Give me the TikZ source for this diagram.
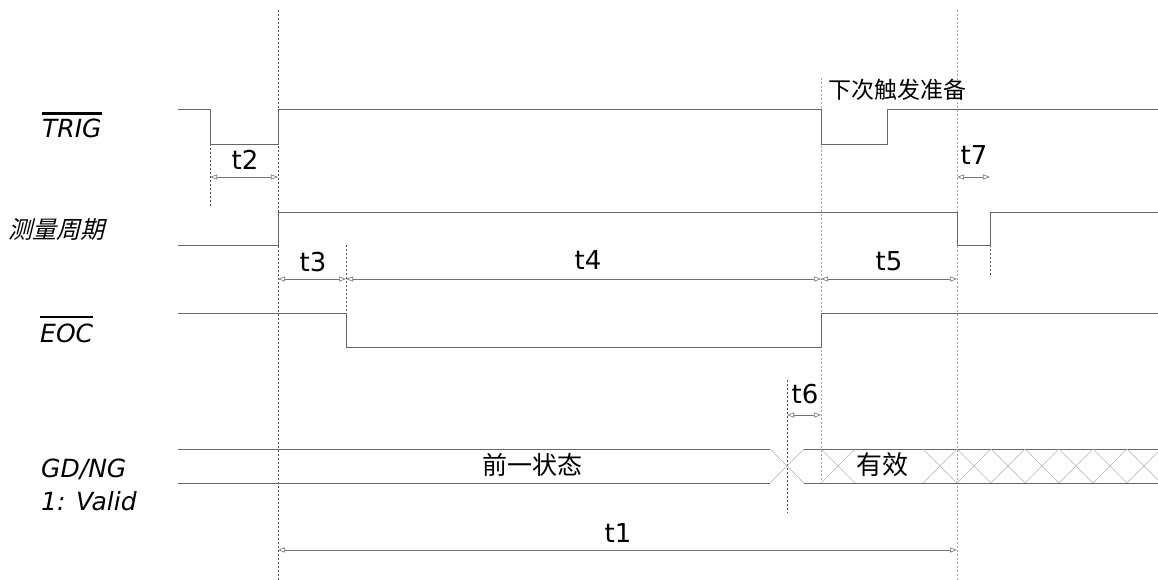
\documentclass[tikz,border=0pt]{standalone}
\usepackage{fontspec}
\setmainfont{DejaVu Sans}
\newfontfamily\cjk{Noto Sans CJK SC}
\newfontfamily\cjkslant[FakeSlant=0.25]{Noto Sans CJK SC}
\usetikzlibrary{arrows.meta}
\begin{document}
\begin{tikzpicture}[x=1pt,y=-1pt,
  sig/.style={draw=black!60, line width=0.9pt},
  guide/.style={draw=black!70, line width=0.6pt, dash pattern=on 2pt off 2pt},
  lguide/.style={draw=black!35, line width=0.7pt, dash pattern=on 2pt off 2pt},
  dim/.style={draw=black!55, line width=0.6pt,
    {Triangle[open,length=7pt,width=5pt]}-{Triangle[open,length=7pt,width=5pt]}},
  tlab/.style={font=\fontsize{26}{28}\selectfont, inner sep=0pt, anchor=base},
  slab/.style={font=\fontsize{25}{27}\selectfont\itshape, inner sep=0pt, anchor=base west},
  cjklab/.style={inner sep=0pt, anchor=center},
  hatch/.style={draw=black!30, line width=0.6pt},
  bar/.style={line width=2.6pt, draw=black}]
\useasboundingbox (0,0) rectangle (1158,580);

% ---- signal names ----
\node[slab] (trig) at (42,138) {TRIG};
\draw[bar] (trig.west |- 0,113.5) -- (trig.east |- 0,113.5);
\node[cjklab, font=\fontsize{24}{26}\cjkslant] (meas) at (57,230) {测量周期};
\node[slab] (eoc) at (40,342) {EOC};
\draw[bar] (eoc.west |- 0,317) -- (eoc.east |- 0,317);
\node[slab] (gdng) at (41,477) {GD/NG};
\node[slab] (valid) at (41,510) {1: Valid};

% ---- guide lines ----
\draw[guide] (278,10) -- (278,580);
\draw[lguide] (957,10) -- (957,580);
\draw[lguide] (821,78) -- (821,482);
\draw[guide] (210,144) -- (210,208);
\draw[guide] (346,245) -- (346,347);
\draw[guide] (990,245) -- (990,277);
\draw[guide] (787,380) -- (787,513);

% ---- waveforms ----
\draw[sig] (178,109) -- (210,109) -- (210,144) -- (278,144) -- (278,109)
  -- (821,109) -- (821,144) -- (887,144) -- (887,109) -- (1158,109);
\draw[sig] (178,245) -- (278,245) -- (278,212) -- (957,212) -- (957,245)
  -- (990,245) -- (990,212) -- (1158,212);
\draw[sig] (178,313) -- (346,313) -- (346,347) -- (821,347) -- (821,313) -- (1158,313);

% bus GD/NG
\draw[sig] (178,449) -- (770,449);
\draw[sig] (178,483) -- (770,483);
\draw[hatch] (770,449) -- (804,483);
\draw[hatch] (770,483) -- (804,449);
\draw[sig] (804,449) -- (1158,449);
\draw[sig] (804,483) -- (1158,483);
\begin{scope}
  \clip (0,0) rectangle (1158,580);
  \foreach \a in {821,923,957,991,1025,1059,1093,1127}{
    \draw[hatch] (\a,449) -- (\a+34,483);
    \draw[hatch] (\a,483) -- (\a+34,449);
  }
\end{scope}

% ---- texts on waveforms ----
\node[cjklab, font=\fontsize{23}{25}\cjk] (next) at (897,90) {下次触发准备};
\node[cjklab, font=\fontsize{25}{27}\cjk, fill=white, inner sep=1pt] (prev) at (532,465) {前一状态};
\node[cjklab, font=\fontsize{26}{28}\cjk, fill=white, inner sep=1pt] (valid2) at (882,465) {有效};

% ---- dimensions ----
\coordinate (t2a) at (210,177); \coordinate (t2b) at (278,177);
\coordinate (t7a) at (957,177); \coordinate (t7b) at (990,177);
\coordinate (t3a) at (278,279); \coordinate (t3b) at (346,279);
\coordinate (t4b) at (821,279);
\coordinate (t5b) at (957,279);
\coordinate (t6a) at (787,415); \coordinate (t6b) at (821,415);
\coordinate (t1a) at (278,550); \coordinate (t1b) at (957,550);

\draw[dim] (t2a) -- (t2b);
\draw[dim] (t7a) -- (t7b);
\draw[dim] (t3a) -- (t3b);
\draw[dim] (t3b) -- (t4b);
\draw[dim] (t4b) -- (t5b);
\draw[dim] (t6a) -- (t6b);
\draw[dim] (t1a) -- (t1b);

\node[tlab] (lt2) at (245,170) {t2};
\node[tlab] (lt7) at (974,165) {t7};
\node[tlab] (lt3) at (313,271) {t3};
\node[tlab] (lt4) at (588,269) {t4};
\node[tlab] (lt5) at (889,270) {t5};
\node[tlab] (lt6) at (805,403) {t6};
\node[tlab] (lt1) at (618,542) {t1};
\end{tikzpicture}
\end{document}
